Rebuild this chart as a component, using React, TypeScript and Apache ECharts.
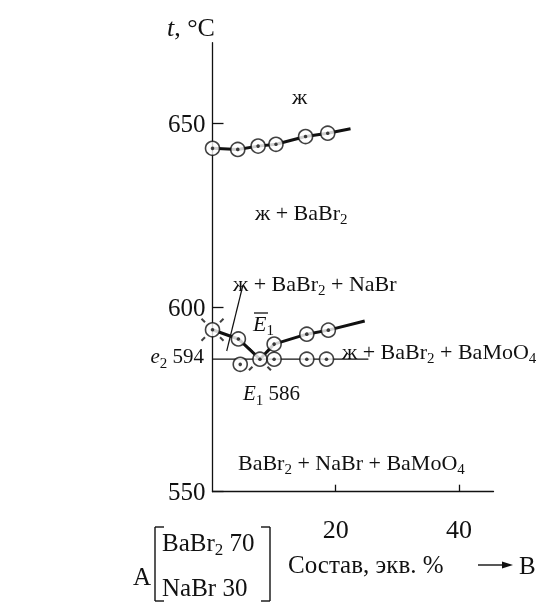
import React, { useEffect, useRef } from "react";
import * as echarts from "echarts";

const SERIF = '"Liberation Serif", "DejaVu Serif", serif';
const INK = "#111";

// Liquidus of BaBr2 (upper curve)
const bromideX = [0, 4.1, 7.4, 10.3, 15.1, 18.7];
const bromideT = [643.3, 643.0, 643.9, 644.4, 646.5, 647.4];
const bromideTail = [22.4, 648.6];

// Branch e2 – E1
const leftX = [0, 4.2, 7.7];
const leftT = [594, 591.5, 586];

// Branch E1 – BaMoO4 field
const rightX = [7.7, 10.0, 15.3, 18.8];
const rightT = [586, 590.1, 592.8, 593.9];
const rightTail = [24.7, 596.4];

// Eutectic horizontal (solidus) and the points measured on it
const solidusT = 586;
const solidusSpan = [0, 25.3];
const solidusX = [4.5, 10.0, 15.3, 18.5];
const solidusPtT = [584.6, 586, 586, 586];

// Invariant points marked with rays
const invariantX = [0, 7.7];
const invariantT = [594, 586];

// Axis ticks
const tempTicks = [550, 600, 650];
const compTicks = [20, 40];

const zip = (xs: number[], ys: number[]) => xs.map((x, i) => [x, ys[i]]);

const rich = {
  n: { fontSize: 22, fontFamily: SERIF, color: INK },
  i: { fontSize: 22, fontFamily: SERIF, color: INK, fontStyle: "italic" },
  s: { fontSize: 15, fontFamily: SERIF, color: INK, padding: [14, 0, 0, 0] },
  nm: { fontSize: 21, fontFamily: SERIF, color: INK },
  im: { fontSize: 21, fontFamily: SERIF, color: INK, fontStyle: "italic" },
  sm: { fontSize: 15, fontFamily: SERIF, color: INK, padding: [13, 0, 0, 0] },
  nb: { fontSize: 25, fontFamily: SERIF, color: INK },
  ib: { fontSize: 25, fontFamily: SERIF, color: INK, fontStyle: "italic" },
  sb: { fontSize: 17, fontFamily: SERIF, color: INK, padding: [15, 0, 0, 0] },
  nt: { fontSize: 26, fontFamily: SERIF, color: INK },
  it: { fontSize: 26, fontFamily: SERIF, color: INK, fontStyle: "italic" },
};

const label = (x: number, y: number, text: string, align = "left") => ({
  type: "text",
  x,
  y,
  silent: true,
  style: { text, rich, align, verticalAlign: "middle", fill: INK },
});

const seg = (x1: number, y1: number, x2: number, y2: number, w = 1.3) => ({
  type: "line",
  silent: true,
  shape: { x1, y1, x2, y2 },
  style: { stroke: INK, lineWidth: w },
});

export default function App() {
  const ref = useRef<HTMLDivElement>(null);

  useEffect(() => {
    if (!ref.current) return;
    const chart = echarts.init(ref.current, undefined, { renderer: "svg" });

    const thick = { color: INK, width: 3 };
    const circlePts = [
      ...zip(bromideX, bromideT),
      ...zip(leftX, leftT),
      ...zip(rightX.slice(1), rightT.slice(1)),
      ...zip(solidusX, solidusPtT),
    ];

    chart.setOption({
      animation: false,
      grid: { left: 212.5, right: 46.5, top: 42.7, bottom: 110.3 },
      xAxis: {
        type: "value",
        min: 0,
        max: 45.6,
        splitLine: { show: false },
        axisLine: { lineStyle: { color: INK, width: 1.3 } },
        axisTick: {
          inside: true,
          length: 7,
          customValues: compTicks,
          lineStyle: { color: INK, width: 1.3 },
        },
        axisLabel: {
          customValues: compTicks,
          margin: 25,
          fontSize: 26,
          fontFamily: SERIF,
          color: INK,
        },
      },
      yAxis: {
        type: "value",
        min: 550,
        max: 672,
        splitLine: { show: false },
        axisLine: { lineStyle: { color: INK, width: 1.3 } },
        axisTick: {
          inside: true,
          length: 11,
          customValues: tempTicks,
          lineStyle: { color: INK, width: 1.3 },
        },
        axisLabel: {
          customValues: tempTicks,
          margin: 7,
          fontSize: 25,
          fontFamily: SERIF,
          color: INK,
        },
      },
      series: [
        {
          type: "line",
          data: [...zip(bromideX, bromideT), bromideTail],
          showSymbol: false,
          lineStyle: thick,
          z: 2,
        },
        {
          type: "line",
          data: zip(leftX, leftT),
          showSymbol: false,
          lineStyle: thick,
          z: 2,
        },
        {
          type: "line",
          data: [...zip(rightX, rightT), rightTail],
          showSymbol: false,
          lineStyle: thick,
          z: 2,
        },
        {
          type: "line",
          data: solidusSpan.map((x) => [x, solidusT]),
          showSymbol: false,
          lineStyle: { color: INK, width: 1.3 },
          z: 2,
        },
        {
          type: "scatter",
          data: zip(invariantX, invariantT),
          symbol: "path://M-11,-11L-7.5,-7.5M11,-11L7.5,-7.5M-11,11L-7.5,7.5M11,11L7.5,7.5",
          symbolSize: 22,
          itemStyle: { color: "none", borderColor: INK, borderWidth: 2 },
          z: 3,
        },
        {
          type: "scatter",
          data: circlePts,
          symbol: "circle",
          symbolSize: 14,
          itemStyle: { color: "#fff", borderColor: INK, borderWidth: 1.6 },
          z: 4,
        },
        {
          type: "scatter",
          data: circlePts,
          symbol: "circle",
          symbolSize: 3.6,
          itemStyle: { color: INK },
          z: 5,
        },
      ],
      graphic: [
        label(167, 27, "{it|t}{nt|, °C}"),
        label(292, 96, "{n|ж}"),
        label(255, 212, "{n|ж + BaBr}{s|2}"),
        label(233, 283, "{n|ж + BaBr}{s|2}{n| + NaBr}"),
        seg(242.7, 286, 226.7, 351, 1.2),
        label(253, 323, "{i|E}{s|1}"),
        seg(254, 313, 268, 313, 1.3),
        label(204, 356, "{im|e}{sm|2}{nm| 594}", "right"),
        label(342, 351, "{n|ж + BaBr}{s|2}{n| + BaMoO}{s|4}"),
        label(243, 393, "{im|E}{sm|1}{nm| 586}"),
        label(238, 462, "{n|BaBr}{s|2}{n| + NaBr + BaMoO}{s|4}"),
        // composition caption under the axis
        label(133, 576, "{nb|A}"),
        seg(155, 527, 155, 601, 1.4),
        seg(155, 527, 164, 527, 1.4),
        seg(155, 601, 164, 601, 1.4),
        seg(270, 527, 270, 601, 1.4),
        seg(261, 527, 270, 527, 1.4),
        seg(261, 601, 270, 601, 1.4),
        label(162, 542, "{nb|BaBr}{sb|2}{nb| 70}"),
        label(162, 587, "{nb|NaBr 30}"),
        label(288, 564, "{nb|Состав, экв. %}"),
        seg(478, 565, 505, 565, 1.4),
        {
          type: "polygon",
          silent: true,
          shape: { points: [[502, 561.5], [513, 565], [502, 568.5]] },
          style: { fill: INK },
        },
        label(519, 565, "{nb|B}"),
      ],
    });

    return () => chart.dispose();
  }, []);

  return (
    <div
      ref={ref}
      style={{ position: "fixed", left: 0, top: 0, width: 540, height: 602 }}
    />
  );
}
